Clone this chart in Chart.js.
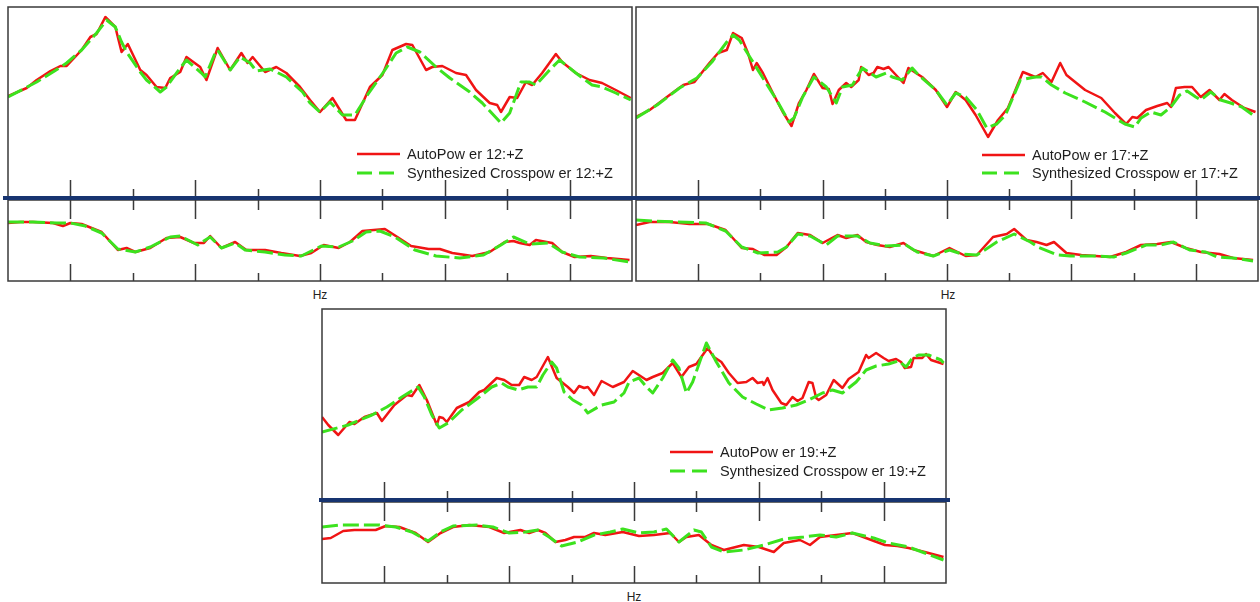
<!DOCTYPE html>
<html>
<head>
<meta charset="utf-8">
<title>AutoPower vs Synthesized Crosspower</title>
<script src="https://cdn.jsdelivr.net/npm/chart.js@4.4.1/dist/chart.umd.min.js"></script>
<style>
  html, body { margin: 0; padding: 0; background: #fff; }
  #stage { position: relative; width: 1260px; height: 602px; overflow: hidden;
           font-family: "Liberation Sans", Arial, sans-serif; color: #1e1e1e; }
  #stage canvas { position: absolute; }
  .navy { position: absolute; background: #173470; z-index: 5; }
  .hz { position: absolute; font-size: 12px; line-height: 12px; color: #222; transform: translateX(-50%); }
  .row { position: absolute; white-space: nowrap; height: 18px; line-height: 18px;
         font-size: 14.5px; display: flex; align-items: center; z-index: 4; }
  .row svg { margin-right: 7px; flex: none; }
</style>
</head>
<body>
<div id="stage"></div>
<script>
// ---- frequency axis (tick positions, no labels printed) ----
const hzTicks = [0, 50, 100, 150, 200, 250, 300, 350, 400, 450, 500];

// ---- legend texts ----
const autoLabels  = ['AutoPow er 12:+Z', 'AutoPow er 17:+Z', 'AutoPow er 19:+Z'];
const synthLabels = ['Synthesized Crosspow er 12:+Z', 'Synthesized Crosspow er 17:+Z', 'Synthesized Crosspow er 19:+Z'];

// ---- channel 12, upper plot ----
const auto12UpperHz  = [0,15,23,34,42,47,59,66,71,78,86,91,96,106,111,119,126,130,138,143,154,159,168,178,187,192,196,206,215,223,234,242,250,260,271,278,290,300,308,319,324,335,340,348,359,367,375,386,392,395,402,408,415,420,428,439,444,455,466,476,487,499];
const auto12UpperVal = [50.5,54.5,58.5,63,65.5,65.5,73.5,80,81.5,90,85,72.5,76.5,63.5,61,55,54.5,59.5,62.5,70,65,58.5,74.5,63.5,72,67,70,62.5,65,62,55,48.5,42.5,49.5,38.5,38.5,55,61,73.5,76.5,76,63.5,65,65.5,62,61,53.5,47,46,42.5,50,49.5,57.5,56,62,71.5,67.5,62,58.5,57,53.5,49.5];
const synth12UpperHz  = [0,23,36,47,59,71,79,86,91,95,106,111,122,127,138,143,155,158,166,168,178,186,194,199,210,215,223,236,242,250,258,268,278,288,302,311,320,330,343,354,370,380,395,402,411,418,423,434,442,447,455,468,476,487,499];
const synth12UpperVal = [50,57.5,62.5,67,73.5,82,88.5,85,77.5,72.5,62.5,58.5,52.5,55,64.5,68.5,62,60,72,73.5,63.5,70,67,63,64,62.5,60,52.5,47,42.5,47.5,41,41,51,63.5,72,75,72.5,65,59.5,52.5,47,37,42,57.5,57.5,56,63.5,68.5,66,62,56,55,52,48.5];

// ---- channel 12, lower plot ----
const auto12LowerHz  = [0,10,20,36,44,50,59,75,88,95,102,114,127,138,149,157,162,171,182,191,206,219,234,243,253,265,274,284,302,312,323,337,346,356,372,386,398,405,410,418,423,436,444,454,467,480,498];
const auto12LowerVal = [58,59,59,58,55,58,57,49,31,33,29,33,43,44,38,38,45,33,39,31,31,28,25,28,36,33,39,50,52,44,35,32,32,28,25,29,39,40,38,36,41,38,29,24,25,23,21];
const synth12LowerHz  = [0,20,39,50,62,75,88,102,114,130,138,152,162,171,182,190,206,222,235,251,265,276,287,298,310,326,343,362,381,395,405,418,433,444,458,477,498];
const synth12LowerVal = [59,59,58,58,55,48,32,29,34,44,45,36,44,33,38,31,29,26,25,35,34,40,49,50,44,31,25,23,26,36,44,37,38,29,24,23,19];

// ---- channel 17, upper plot ----
const auto17UpperHz  = [0,11,27,38,47,59,66,73,78,85,90,94,97,102,110,118,125,131,137,143,150,155,158,163,169,173,179,181,187,191,194,199,203,209,215,219,225,230,241,250,257,265,273,283,291,299,311,321,327,334,341,346,361,374,385,394,399,403,410,419,427,430,434,441,447,454,461,469,473,479,489,498];
const auto17UpperVal = [40,43.5,51,56,57.5,67,72,73.5,82,79.5,72,63.5,67,62,52,42.5,35.5,47,53.5,61.5,54.5,54,46.5,53.5,57,55,58.5,65,61,62,65,64,65,61,57,64.5,62,60,53.5,45,52.5,48.5,41,30,38.5,44.5,62.5,60,62,57.5,67,61,53.5,49.5,42,36.5,40,39.5,43.5,45.5,47,45,54.5,55,55,50,53.5,48.5,51.5,48.5,44.5,42.5];
const synth17UpperHz  = [0,17,35,49,61,73,78,83,89,93,102,113,123,127,134,143,153,161,166,174,182,193,201,206,214,222,227,241,250,257,265,274,282,290,297,309,321,326,334,345,361,377,393,401,406,414,422,430,437,443,450,454,462,470,478,487,498];
const synth17UpperVal = [39.5,46,54.5,59.5,67.5,77.5,81,78.5,72.5,68.5,59.5,48.5,37.5,39.5,50,60,55,47,55,56,64.5,60,62,60,58.5,64.5,61,53.5,46,52,50,43.5,34.5,36.5,41,58.5,60,60,56,52,47.5,42.5,36.5,35,39.5,42.5,41,45,51,53,50,48.5,52.5,48.5,47,45,40];

// ---- channel 17, lower plot ----
const auto17LowerHz  = [0,11,27,43,58,72,85,94,103,113,121,130,140,150,162,169,178,185,194,204,215,223,239,252,265,274,287,298,304,314,322,330,336,346,358,381,394,406,419,430,442,454,469,480,496];
const auto17LowerVal = [56,59,59,57,57,51,33,32,26,26,34,48,46,38,46,43,46,39,36,34,38,31,25,33,25,26,44,47,52,41,39,36,39,28,26,24,29,36,37,39,33,29,27,23,21];
const synth17LowerHz  = [0,14,34,56,72,85,98,114,121,130,140,153,162,178,188,201,217,226,239,252,262,274,284,290,304,317,323,339,349,368,384,394,410,422,432,445,458,467,480,496];
const synth17LowerVal = [61,60,59,58,50,34,28,29,34,47,45,36,45,45,38,35,36,29,25,31,27,26,34,39,47,39,34,26,25,25,24,28,36,36,39,31,29,24,23,20];

// ---- channel 19, upper plot ----
const auto19UpperHz  = [0,5,13,22,26,34,44,48,58,68,72,78,84,92,94,97,100,108,118,126,130,140,146,152,158,162,168,172,181,188,197,202,206,210,213,218,224,233,242,249,260,265,273,281,288,294,300,309,314,320,326,333,340,345,349,353,354,357,361,368,372,377,381,385,390,393,396,398,404,410,417,422,430,436,438,444,450,454,460,464,467,472,474,481,484,488,493,498];
const auto19UpperVal = [41,37,32,38.5,37.5,41,43,39,47,52,51.5,57,49.5,37,41,40.5,38.5,45.5,48.5,53.5,54.5,60.5,59.5,57,57,61,59.5,61,71,60.5,56,53,56.5,55.5,56,52,59,56,58.5,64,59.5,61,63,68,61,66,67.5,75.5,71,68.5,63,58,58.5,60.5,58,58.5,57,60.5,54.5,48,47,51,49,50.5,58.5,58,50.5,49.5,52,59.5,55.5,60,63.5,72,70.5,73,70.5,69,70,68.5,65.5,66,70.5,70.5,72.5,69.5,68.5,67.5];
const synth19UpperHz  = [0,21,40,52,64,77,82,88,94,101,112,125,136,144,149,157,165,172,177,184,188,194,201,208,213,224,234,242,246,254,260,265,273,281,286,292,297,308,316,326,337,348,358,369,380,390,401,409,417,428,436,444,454,462,468,473,478,486,496,498];
const synth19UpperVal = [33.5,37,42,46,51,56,51,42,35.5,38,44.5,50.5,56,58,56,54.5,56,56,62,68.5,65.5,53.5,49.5,47,43,47,48.5,53,58.5,60.5,56,53,60.5,69.5,65.5,53,58.5,78,68.5,58,51,47.5,44.5,45.5,47,49.5,53,54.5,53,58.5,64.5,66.5,67.5,69,66,70.5,72,72,69.5,68];

// ---- channel 19, lower plot ----
const auto19LowerHz  = [0,7,17,26,43,51,62,75,85,95,105,118,134,146,159,166,173,179,187,195,202,211,218,227,241,254,266,279,286,292,302,312,322,338,350,362,370,383,391,399,412,425,438,451,461,470,483,498];
const auto19LowerVal = [44,45,52,53,53,57,56,50,41,50,56,58,56,50,53,50,53,50,41,43,46,46,50,48,51,47,48,50,41,46,48,38,33,38,36,31,40,43,38,46,48,50,44,38,37,35,31,26];
const synth19LowerHz  = [0,14,34,46,59,72,85,95,105,124,137,150,163,173,182,192,205,218,231,241,254,266,276,286,298,304,312,322,338,354,370,386,399,412,425,442,454,470,483,498];
const synth19LowerVal = [56,58,58,58,56,51,42,51,57,58,56,50,51,53,46,37,41,48,51,54,50,51,54,41,53,51,36,31,33,38,44,46,48,46,50,45,40,36,30,23];

// ---- styling ----
const RED = '#f01414';
const GREEN = '#3ce21e';
const GREEN_DASH = [16, 5];
const FRAME = '#3a3a3a';
const UPPER_MAX = 95;
const LOWER_MAX = 81;

const stage = document.getElementById('stage');

// Frame around the plot area plus inward-pointing frequency ticks
// (long and short ticks alternate along the axis).
const frameTicks = {
  id: 'frameTicks',
  afterDraw(chart, args, opts) {
    const { ctx, chartArea: a, scales: { x } } = chart;
    ctx.save();
    ctx.strokeStyle = FRAME;
    ctx.lineWidth = 1.5;
    ctx.beginPath();
    hzTicks.forEach((v, i) => {
      if (v <= x.min || v >= x.max) return;
      const px = Math.round(x.getPixelForValue(v)) + 0.5;
      const isLong = i % 2 === 1;
      if (opts.bottom) {
        const len = isLong ? opts.bottom[0] : opts.bottom[1];
        ctx.moveTo(px, a.bottom); ctx.lineTo(px, a.bottom - len);
      }
      if (opts.top) {
        const len = isLong ? opts.top[0] : opts.top[1];
        ctx.moveTo(px, a.top); ctx.lineTo(px, a.top + len);
      }
    });
    ctx.stroke();
    ctx.strokeRect(a.left, a.top, a.right - a.left, a.bottom - a.top);
    ctx.restore();
  }
};

const pts = (hz, val) => hz.map((f, i) => ({ x: f, y: val[i] }));

function addPlot(box, yMax, autoHz, autoVal, synHz, synVal, autoName, synName, ticks) {
  const PAD = 2;
  const cv = document.createElement('canvas');
  cv.width = box.w + 2 * PAD;
  cv.height = box.h + 2 * PAD;
  cv.style.left = (box.x - PAD) + 'px';
  cv.style.top = (box.y - PAD) + 'px';
  cv.style.width = cv.width + 'px';
  cv.style.height = cv.height + 'px';
  stage.appendChild(cv);
  new Chart(cv, {
    type: 'line',
    data: {
      datasets: [
        { label: autoName, data: pts(autoHz, autoVal), borderColor: RED, borderWidth: 2.5, order: 1 },
        { label: synName, data: pts(synHz, synVal), borderColor: GREEN, borderWidth: 3, borderDash: GREEN_DASH, order: 0 }
      ]
    },
    options: {
      responsive: false,
      animation: false,
      devicePixelRatio: 1,
      events: [],
      layout: { padding: PAD },
      elements: {
        point: { radius: 0 },
        line: { tension: 0, fill: false, borderJoinStyle: 'round', borderCapStyle: 'butt' }
      },
      scales: {
        x: { type: 'linear', min: hzTicks[0], max: hzTicks[hzTicks.length - 1], display: false },
        y: { type: 'linear', min: 0, max: yMax, display: false }
      },
      plugins: { legend: { display: false }, tooltip: { enabled: false }, frameTicks: ticks }
    },
    plugins: [frameTicks]
  });
}

function addNavy(x1, x2, y) {
  const d = document.createElement('div');
  d.className = 'navy';
  d.style.left = x1 + 'px'; d.style.width = (x2 - x1) + 'px';
  d.style.top = y + 'px'; d.style.height = '4px';
  stage.appendChild(d);
}

function addHz(cx, cy) {
  const d = document.createElement('div');
  d.className = 'hz';
  d.textContent = 'Hz';
  d.style.left = cx + 'px';
  d.style.top = (cy - 6) + 'px';
  stage.appendChild(d);
}

function addLegendRow(x, cy, color, dash, text) {
  const r = document.createElement('div');
  r.className = 'row';
  r.style.left = x + 'px';
  r.style.top = (cy - 9) + 'px';
  const dashAttr = dash ? ` stroke-dasharray="${dash}"` : '';
  r.innerHTML = `<svg width="43" height="6"><line x1="0" y1="3" x2="43" y2="3" stroke="${color}" stroke-width="${dash ? 3 : 2.5}"${dashAttr}/></svg>`;
  const s = document.createElement('span');
  s.textContent = text;
  r.appendChild(s);
  stage.appendChild(r);
}

// ---- panel layouts ----
const panels = [
  { x: 8, w: 624, upTop: 7, loTop: 200, navy: [3, 635, 196], hz: [320, 295], leg: [357, 154, 173],
    data: [auto12UpperHz, auto12UpperVal, synth12UpperHz, synth12UpperVal, auto12LowerHz, auto12LowerVal, synth12LowerHz, synth12LowerVal] },
  { x: 636, w: 622, upTop: 7, loTop: 200, navy: [635, 1260, 196], hz: [948, 295], leg: [982, 155, 173],
    data: [auto17UpperHz, auto17UpperVal, synth17UpperHz, synth17UpperVal, auto17LowerHz, auto17LowerVal, synth17LowerHz, synth17LowerVal] },
  { x: 322, w: 624, upTop: 309, loTop: 502, navy: [319, 950, 498], hz: [634, 597], leg: [670, 452, 471],
    data: [auto19UpperHz, auto19UpperVal, synth19UpperHz, synth19UpperVal, auto19LowerHz, auto19LowerVal, synth19LowerHz, synth19LowerVal] }
];

panels.forEach((p, k) => {
  const d = p.data;
  addPlot({ x: p.x, y: p.upTop, w: p.w, h: 190 }, UPPER_MAX, d[0], d[1], d[2], d[3],
          autoLabels[k], synthLabels[k], { bottom: [17, 8] });
  addPlot({ x: p.x, y: p.loTop, w: p.w, h: 81 }, LOWER_MAX, d[4], d[5], d[6], d[7],
          autoLabels[k], synthLabels[k], { top: [19, 10], bottom: [17, 8] });
  addNavy(p.navy[0], p.navy[1], p.navy[2]);
  addHz(p.hz[0], p.hz[1]);
  addLegendRow(p.leg[0], p.leg[1], RED, null, autoLabels[k]);
  addLegendRow(p.leg[0], p.leg[2], GREEN, '15 7', synthLabels[k]);
});
</script>
</body>
</html>
